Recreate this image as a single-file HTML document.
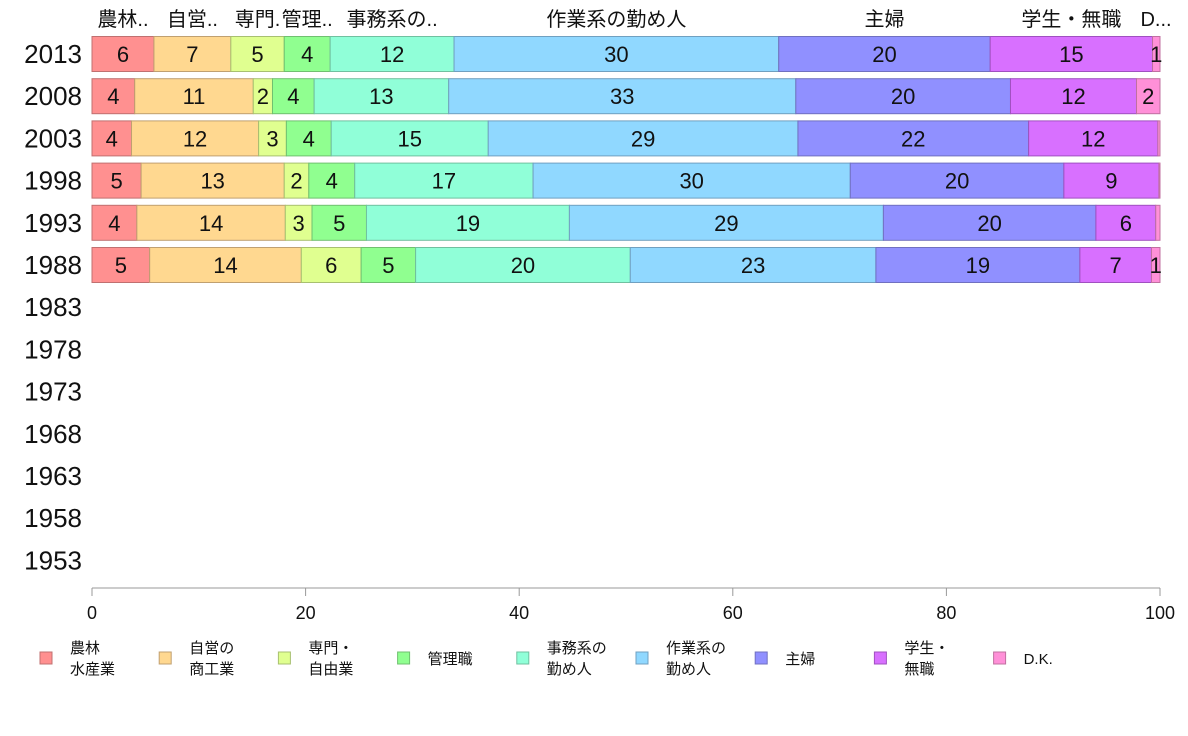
<!DOCTYPE html>
<html><head><meta charset="utf-8"><style>
body{margin:0;background:#fff;}
svg{display:block;font-family:"Liberation Sans","Noto Sans CJK JP",sans-serif;}
</style></head><body>
<svg id="chart" width="1188" height="736" viewBox="0 0 1188 736" xmlns="http://www.w3.org/2000/svg"></svg>
<script>
const years = ["2013","2008","2003","1998","1993","1988","1983","1978","1973","1968","1963","1958","1953"];
const categories = ["農林水産業","自営の商工業","専門・自由業","管理職","事務系の勤め人","作業系の勤め人","主婦","学生・無職","D.K."];
const topLabels = ["農林..","自営..","専門.","管理..","事務系の..","作業系の勤め人","主婦","学生・無職","D..."];
const legendLine1 = ["農林","自営の","専門・","管理職","事務系の","作業系の","主婦","学生・","D.K."];
const legendLine2 = ["水産業","商工業","自由業","","勤め人","勤め人","","無職",""];
const v2013 = [5.8,7.2,5.0,4.3,11.6,30.4,19.8,15.2,0.7];
const v2008 = [4.0,11.1,1.8,3.9,12.6,32.5,20.1,11.8,2.2];
const v2003 = [3.7,11.9,2.6,4.2,14.7,29.0,21.6,12.1,0.2];
const v1998 = [4.6,13.4,2.3,4.3,16.7,29.7,20.0,8.9,0.1];
const v1993 = [4.2,13.9,2.5,5.1,19.0,29.4,19.9,5.6,0.4];
const v1988 = [5.4,14.2,5.6,5.1,20.1,23.0,19.1,6.7,0.8];
const seriesByYear = [v2013,v2008,v2003,v1998,v1993,v1988];
const xTicks = [0,20,40,60,80,100];
const fills = ["#ff9090","#ffd890","#e0ff90","#90ff90","#90ffd8","#90d8ff","#9090ff","#d870ff","#ff90d8"];
const strokes = ["#c07070","#c0a070","#a8c070","#70c070","#70c0a0","#70a0c0","#7070c0","#a050c0","#c070a0"];

const svg = document.getElementById('chart');
const NS = "http://www.w3.org/2000/svg";
const x0 = 92, x1 = 1160;
const xs = v => x0 + (x1 - x0) * v / 100;
const yc = i => 54 + i * 42.2;
const barH = 35;
function mk(tag, attrs, txt){const e=document.createElementNS(NS,tag);for(const k in attrs)e.setAttribute(k,attrs[k]);if(txt!==undefined)e.textContent=txt;svg.appendChild(e);return e;}

// year labels
years.forEach((y,i)=>{
  const t = mk('text',{x:82,y:yc(i)+9,'text-anchor':'end','font-size':26,fill:'#111'},y);
  
  
});
// bars
seriesByYear.forEach((vals,i)=>{
  let acc=0;
  vals.forEach((v,j)=>{
    const r = mk('rect',{x:xs(acc),y:yc(i)-barH/2,width:xs(acc+v)-xs(acc),height:barH,fill:fills[j],stroke:strokes[j],'stroke-width':1});
    
    
    if(v>=0.6){
      const t = mk('text',{x:(xs(acc)+xs(acc+v))/2,y:yc(i)+8,'text-anchor':'middle','font-size':22,fill:'#111'},String(Math.round(v)));
      
      
    }
    acc+=v;
  });
});
// top category labels (over 2013 segments)
{
  let acc=0;
  v2013.forEach((v,j)=>{
    let cx=(xs(acc)+xs(acc+v))/2;
    if(j===8) cx=1156;
    const t = mk('text',{x:cx,y:26,'text-anchor':'middle','font-size':20,fill:'#111'},topLabels[j]);
    
    
    acc+=v;
  });
}
// x axis
{
  const a = mk('line',{x1:x0,y1:588,x2:x1,y2:588,stroke:'#999','stroke-width':1});
  
  
  xTicks.forEach(tk=>{
    const l = mk('line',{x1:xs(tk),y1:588,x2:xs(tk),y2:596,stroke:'#999','stroke-width':1});
    
    
    const t = mk('text',{x:xs(tk),y:619,'text-anchor':'middle','font-size':18,fill:'#111'},String(tk));
    
    
  });
}
// legend
categories.forEach((c,j)=>{
  const lx = 40 + j*119.2;
  const g = document.createElementNS(NS,'g');
  
  
  svg.appendChild(g);
  const r = mk('rect',{x:lx,y:652,width:12,height:12,fill:fills[j],stroke:strokes[j]});
  
  
  g.appendChild(r);
  if(legendLine2[j]){
    const t1 = mk('text',{x:lx+30,y:653,'font-size':15,fill:'#111'},legendLine1[j]);
    
    
    g.appendChild(t1);
    const t2 = mk('text',{x:lx+30,y:674,'font-size':15,fill:'#111'},legendLine2[j]);
    
    
    g.appendChild(t2);
  } else {
    const t1 = mk('text',{x:lx+30,y:664,'font-size':15,fill:'#111'},legendLine1[j]);
    
    
    g.appendChild(t1);
  }
});
</script>
</body></html>
